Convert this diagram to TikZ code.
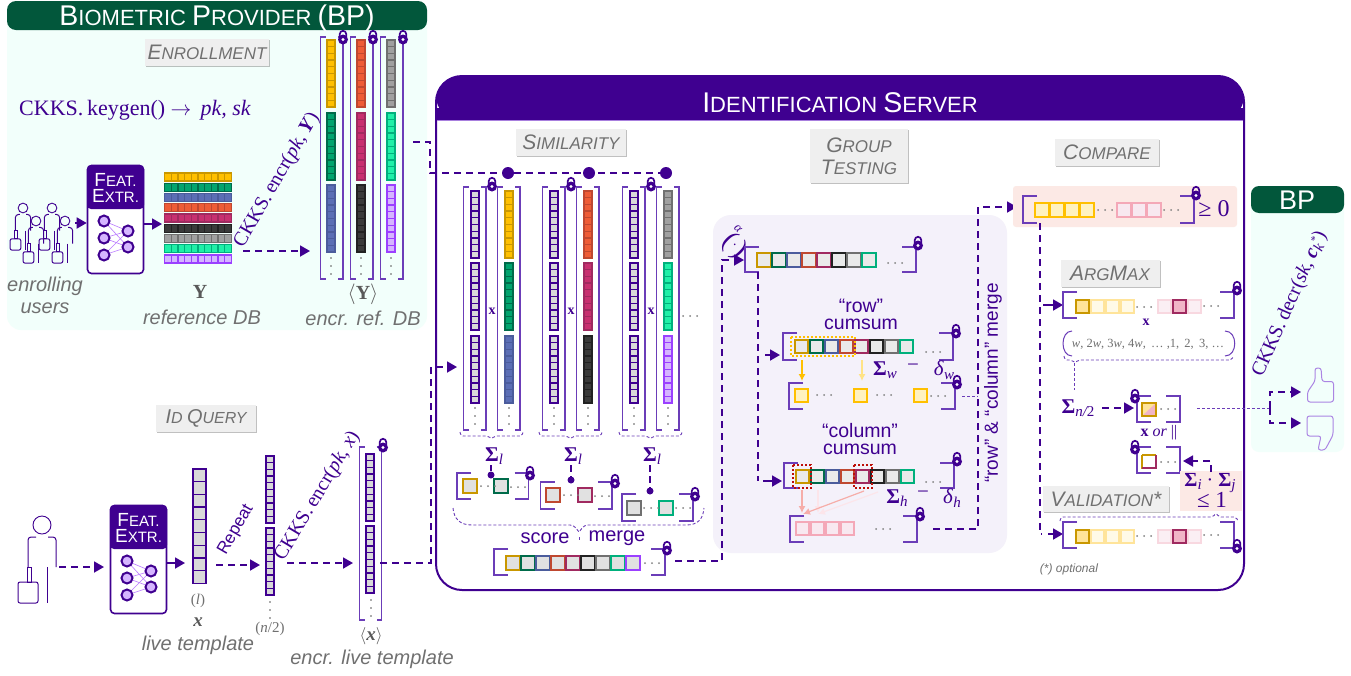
\documentclass[tikz,border=0pt]{standalone}
\usepackage{fontspec}
\setmainfont{Liberation Sans}
\newfontfamily\mf{Liberation Serif}
\usetikzlibrary{arrows.meta,shadows,calc}
\definecolor{pur}{HTML}{3F0090}
\definecolor{brk}{HTML}{6B3DB8}
\definecolor{hgreen}{HTML}{02573B}
\definecolor{mint}{HTML}{F2FFFB}
\definecolor{labbg}{HTML}{EFEFEF}
\definecolor{labtx}{HTML}{707070}
\definecolor{panel}{HTML}{F4F1FA}
\definecolor{pinkbg}{HTML}{FCE9E5}
\definecolor{c1}{HTML}{FFC000}\definecolor{d1}{HTML}{C99700}
\definecolor{c2}{HTML}{00A46E}\definecolor{d2}{HTML}{006B4A}
\definecolor{c3}{HTML}{5B6EB5}\definecolor{d3}{HTML}{4B5C9C}
\definecolor{c4}{HTML}{EE5C36}\definecolor{d4}{HTML}{BF4830}
\definecolor{c5}{HTML}{C83070}\definecolor{d5}{HTML}{A02A60}
\definecolor{c6}{HTML}{3A3A3A}\definecolor{d6}{HTML}{222222}
\definecolor{c7}{HTML}{A0A0A0}\definecolor{d7}{HTML}{707070}
\definecolor{c8}{HTML}{20F0A8}\definecolor{d8}{HTML}{00B07C}
\definecolor{c9}{HTML}{D5B5FF}\definecolor{d9}{HTML}{9B40FF}
\definecolor{cQ}{HTML}{D9D9D9}\definecolor{dQ}{HTML}{3F0090}
\definecolor{ylo}{HTML}{FFC000}\definecolor{ylf}{HTML}{FFF2C0}
\definecolor{pkb}{HTML}{F4A8B8}\definecolor{pkf}{HTML}{F8E8F0}
\definecolor{ylb2}{HTML}{FFE49A}\definecolor{ylf2}{HTML}{FFFAE6}
\definecolor{pkb2}{HTML}{F8D8E0}\definecolor{pkf2}{HTML}{FBEFF4}
\newcommand\scw[4]{{\fontsize{#1}{#1}\selectfont #3\fontsize{#2}{#2}\selectfont #4}}
\newcommand\ssb[1]{\raisebox{-3.5pt}{\fontsize{15}{15}\selectfont\mdseries\itshape #1}}
\newcommand\myhc[8]{\foreach \i in {0,...,#3}{\draw[draw=#7,fill=#8,line width=1.3pt] (#1+\i*#4,#2) rectangle ++(#5,#6);}}
\newcommand\myvc[8]{\foreach \i in {0,...,#3}{\draw[draw=#7,fill=#8,line width=1.35pt] (#1,#2+\i*#4) rectangle ++(#5,#6);}}
\newcommand\mytri[7]{\myvc{#1}{#2}{9}{6.7}{8}{6.7}{d#5}{c#5}\myvc{#1}{#3}{9}{6.7}{8}{6.7}{d#6}{c#6}\myvc{#1}{#4}{9}{6.7}{8}{6.7}{d#7}{c#7}}
\newcommand\myrow[6]{\foreach \k [count=\n from 0] in {#5}{\draw[draw=d\k,fill=#6,line width=1.3pt] (#1+\n*#3,#2) rectangle ++(#4,#4);}}
\newcommand\brkt[5]{\draw[brk,line width=1.1pt] (#1+#5,#2) -- (#1,#2) -- (#1,#4) -- (#1+#5,#4);\draw[brk,line width=1.1pt] (#3-#5,#2) -- (#3,#2) -- (#3,#4) -- (#3-#5,#4);}
\newcommand\lockat[2]{\fill[pur] (#1,#2+2.5) circle (5);\fill[white] (#1,#2+2.5) circle (1.6);\draw[pur,line width=1.7pt] (#1-3.2,#2) -- (#1-3.2,#2-3) arc (180:360:3.2) -- (#1+3.2,#2);}
\newcommand\hd[3]{\foreach \j in {0,1,2}{\fill[gray] (#1+\j*7,#2) circle (1);}}
\newcommand\vd[2]{\foreach \j in {0,1,2}{\fill[gray!70!black] (#1,#2+\j*8) circle (0.9);}}
\newcommand\person[3]{\begin{scope}[shift={(#1,#2)},scale=#3,pur,line width=1pt]
\draw[line width=.9pt] (0,0) circle [radius=9];
\draw[rounded corners=3pt] (-14,42) -- (-14,12) -- (-6,12);
\draw[rounded corners=3pt] (6,12) -- (14,12) -- (14,42);
\draw (-15,42) rectangle (-11,57);
\draw[rounded corners=2pt] (-24,57) rectangle (-4,78);
\draw (5,42) -- (5,78);
\end{scope}}
\newcommand\fext[3]{%
\node[draw=pur,fill=white,line width=1.6pt,rounded corners=4pt,minimum width=56pt,minimum height=108pt,inner sep=0] (#3) at (#1+28.5,#2+54.5) {};
\fill[pur,rounded corners=4pt] (#1,#2+44) -- (#1,#2) -- (#1+57,#2) -- (#1+57,#2+44) -- cycle;
\node[white,inner sep=0,align=center] (#3t) at (#1+28.5,#2+23) {\scw{19}{15}{F}{EAT.}\\[2pt]\scw{19}{15}{E}{XTR.}};
\foreach \a in {56,73,90}{\foreach \b in {66,82}{\draw[d9!70,line width=.6pt] (#1+17,#2+\a) -- (#1+41,#2+\b);}}
\foreach \a in {56,73,90}{\draw[pur,fill=c9,line width=2pt] (#1+17,#2+\a) circle (5.5);}
\foreach \b in {66,82}{\draw[pur,fill=c9,line width=2pt] (#1+41,#2+\b) circle (5.5);}}
\newcommand\dbrace[4]{\draw[brk,line width=.9pt,dash pattern=on 3pt off 2pt,rounded corners=2pt] (#1,#4-4) -- (#1+1,#4) -- (#3-3,#4) -- (#3,#4+3) -- (#3+3,#4) -- (#2-1,#4) -- (#2,#4-4);}
\tikzset{
 dc/.style={pur,line width=1.8pt,dash pattern=on 7pt off 5pt},
 tip/.style={-{Triangle[length=10pt,width=11pt]}},
 lab/.style={fill=labbg,text=labtx,font=\itshape,inner sep=0,drop shadow={shadow xshift=1pt,shadow yshift=-1pt,opacity=.35,fill=black!70},align=center},
 capt/.style={text=labtx,font=\itshape\fontsize{20}{22}\selectfont,inner sep=0,align=center},
 mt/.style={text=pur,font=\mf,inner sep=0},
 st/.style={text=pur,inner sep=0,align=center},
 dotn/.style={circle,fill=pur,inner sep=0,minimum size=#1},
}
\begin{document}
\begin{tikzpicture}[x=1pt,y=-1pt]
\useasboundingbox (0,0) rectangle (1351,675);
\fill[white] (0,0) rectangle (1351,675);
% ---------- BP panel
\fill[mint,rounded corners=14pt] (7,10) rectangle (427,330);
\fill[hgreen,rounded corners=9pt] (7,30) -- (7,1) -- (427,1) -- (427,30) -- cycle;
\node[white,inner sep=0] (bptitle) at (217,18) {\scw{28.5}{22}{B}{IOMETRIC }\scw{28.5}{22}{P}{ROVIDER }\scw{28.5}{28.5}{(BP)}{}};
\node[lab,minimum width=124pt,minimum height=27pt] (enr) at (207,52.5) {\scw{21}{17}{E}{NROLLMENT}};
\node[mt,font=\mf\fontsize{22}{22}\selectfont,anchor=west] (keygen) at (19,110) {CKKS.\,keygen() $\rightarrow$\, \textit{pk, sk}};
% users
\person{23}{208}{.54}\person{36}{221}{.54}\person{52}{208}{.54}\person{65}{221}{.54}
\coordinate (usersR) at (75,223);
\fext{87}{165}{fe1}
\draw[pur,line width=1.8pt,tip] (usersR) -- (fe1.west |- usersR);
\coordinate (y1in) at (162,224);
\draw[pur,line width=1.8pt,tip] (fe1.east |- y1in) -- (y1in);
% reference DB
\foreach \yy/\k in {173/1,183.3/2,193.7/3,203.7/4,214/5,224.3/6,234.3/7,244.7/8,255/9}{\myhc{164.5}{\yy}{9}{6.7}{6.7}{8}{d\k}{c\k}}
\node[capt] (enrusers) at (45,295) {enrolling\\users};
\node[mt,text=black!65,font=\mf\bfseries\fontsize{20}{20}\selectfont] (ylab) at (200,292) {Y};
\node[capt] (refdb) at (202,317) {reference DB};
\node[mt,rotate=60,font=\mf\fontsize{20}{20}\selectfont] (enc1) at (277,180) {CKKS.\,encr(\textit{pk}, \textbf{\textit{Y}})};
\coordinate (enc1a) at (243,251);\coordinate (enc1b) at (310,251);
\draw[dc,tip] (enc1a) -- (enc1b);
% encrypted DB
\foreach \o/\a/\b/\c in {0/1/2/3,30/4/5/6,60/7/8/9}{
 \brkt{320.5+\o}{37}{343+\o}{279}{5}
 \mytri{327+\o}{40}{113}{185}{\a}{\b}{\c}
 \vd{331+\o}{258}
 \lockat{343+\o}{37}
}
\node[mt,text=black!65,font=\mf\bfseries\fontsize{20}{20}\selectfont] (ylab2) at (363,294) {$\langle$Y$\rangle$};
\node[capt] (encdb) at (363,318) {encr. ref. DB};
% ---------- Server
\draw[pur,fill=white,line width=2pt,rounded corners=26pt] (436,76) rectangle (1244,590);
\fill[pur,rounded corners=24pt] (436,120) -- (436,76) -- (1244,76) -- (1244,120) -- cycle;
\fill[pur] (436,108) rectangle (1244,120);
\draw[c9!70!pur,line width=.8pt] (437,120.5) -- (1243,120.5);
\node[white,inner sep=0] (srvtitle) at (840,103) {\scw{28.5}{22}{I}{DENTIFICATION }\scw{28.5}{22}{S}{ERVER}};
% ---------- Query
\node[lab,minimum width=100pt,minimum height=27pt] (idq) at (206,418.5) {\scw{20}{16}{I}{D }\scw{20}{16}{Q}{UERY}};
\person{42}{525}{1}
\coordinate (userR) at (59,567);
\fext{110}{505}{fe2}
\coordinate (feIn) at (104,567);
\draw[dc,tip] (userR) -- (feIn);
\coordinate (xIn) at (185,563);
\draw[pur,line width=1.8pt,tip] (fe2.east |- xIn) -- (xIn);
\myvc{193}{469}{8}{12.7}{13}{12.7}{pur}{cQ}
\node[mt,text=labtx,font=\mf\fontsize{15}{15}\selectfont] (lpar) at (198,601) {(\textit{l})};
\node[mt,text=black!65,font=\mf\bfseries\itshape\fontsize{19}{19}\selectfont] (xlab) at (198,622) {x};
\node[capt] (livet) at (198,645) {live template};
\node[st,rotate=60,font=\fontsize{17}{17}\selectfont] (rep) at (236,530) {Repeat};
\coordinate (rA) at (216,565);\coordinate (rB) at (260,565);
\draw[dc,tip] (rA) -- (rB);
\myvc{266}{456}{9}{6.7}{8}{6.7}{pur}{cQ}\myvc{266}{528}{9}{6.7}{8}{6.7}{pur}{cQ}
\vd{270}{602}
\node[mt,text=labtx,font=\mf\fontsize{15}{15}\selectfont] (n2) at (270,629) {(\textit{n}/2)};
\node[mt,rotate=59,font=\mf\fontsize{20}{20}\selectfont] (enc2) at (317.5,496) {CKKS.\,encr(\textit{pk}, \textit{x})};
\coordinate (eA) at (287,563);\coordinate (eB) at (353,563);
\draw[dc,tip] (eA) -- (eB);
\brkt{359.5}{447}{381.5}{620}{5}
\myvc{366}{454}{9}{6.7}{8}{6.7}{pur}{cQ}\myvc{366}{526}{9}{6.7}{8}{6.7}{pur}{cQ}
\vd{371}{600}
\lockat{383}{445}
\node[mt,text=black!65,font=\mf\bfseries\itshape\fontsize{19}{19}\selectfont] (xenc) at (371,636) {$\langle$x$\rangle$};
\node[capt] (enclive) at (372,659) {encr. live template};
% ---------- Similarity
\node[lab,minimum width=110pt,minimum height=27pt] (sim) at (571,142.5) {\scw{21}{17}{S}{IMILARITY}};
\foreach \o/\a/\b/\c in {0/1/2/3,79/4/5/6,159/7/8/9}{
 \brkt{463.5+\o}{187}{486+\o}{430}{5}
 \brkt{497.5+\o}{187}{520+\o}{430}{5}
 \mytri{471+\o}{191}{263}{336}{Q}{Q}{Q}
 \mytri{505+\o}{191}{263}{336}{\a}{\b}{\c}
 \vd{475+\o}{408}\vd{509+\o}{408}
 \lockat{492+\o}{184}
 \node[mt,font=\mf\bfseries\fontsize{14}{14}\selectfont] at (492+\o,311) {x};
 \dbrace{460+\o}{523+\o}{491.5+\o}{436}
}
\hd{683}{316}{}
\node[dotn=12pt] (b1) at (508,173) {};
\node[dotn=12pt] (b2) at (589,173) {};
\node[dotn=12pt] (b3) at (666,173) {};
\coordinate (dbout) at (413,142);\coordinate (busL) at (430,173);
\draw[dc] (dbout) -| (busL) -- (b3);
\coordinate (qOut) at (380,563);\coordinate (qV) at (431,563);\coordinate (qIn) at (457,367);
\draw[dc,tip] (qOut) -- (qV) |- (qIn);
% sigma l
\foreach \nm/\xx in {s1/492,s2/571,s3/650}{\node[mt,font=\mf\bfseries\fontsize{21}{21}\selectfont] (\nm) at (\xx+2,456) {Σ\ssb{l}};}
\node[dotn=7pt] (p1) at (491,475) {};
\node[dotn=7pt] (p2) at (571,480) {};
\node[dotn=7pt] (p3) at (650,491) {};
\draw[pur,line width=1.6pt] (491,465) -- (p1);
\draw[pur,line width=1.6pt,dash pattern=on 7pt off 4pt] (571,465) -- (p2);
\draw[pur,line width=1.6pt,dash pattern=on 7pt off 4pt] (650,465) -- (p3);
\brkt{457}{473}{528.5}{499}{14}
\draw[d1,fill=cQ!80,line width=1.6pt] (463,479) rectangle ++(14,14);\draw[d2,fill=cQ!80,line width=1.6pt] (494,479) rectangle ++(14,14);
\hd{481}{486}{}\hd{511}{487}{}
\lockat{530}{473}
\brkt{540.5}{482}{612}{509}{14}
\draw[d4,fill=cQ!80,line width=1.6pt] (546,488) rectangle ++(14,14);\draw[d5,fill=cQ!80,line width=1.6pt] (578,488) rectangle ++(14,14);
\hd{564}{495}{}\hd{595}{496}{}
\lockat{615}{481}
\brkt{622}{494}{693}{521}{14}
\draw[d7,fill=cQ!80,line width=1.6pt] (627,501) rectangle ++(14,14);\draw[d8,fill=cQ!80,line width=1.6pt] (659,501) rectangle ++(14,14);
\hd{644}{508}{}\hd{676}{508}{}
\lockat{695}{494}
\draw[brk,line width=.9pt,dash pattern=on 3pt off 2pt] (453,508) .. controls (454,519) and (460,525) .. (472,525) -- (570,525) .. controls (575,525) and (577,530) .. (579,532) .. controls (581,530) and (583,525) .. (588,525) -- (686,525) .. controls (698,525) and (703,519) .. (704,508);
\draw[brk,line width=1pt] (579,537) -- (579,540);
\node[st,font=\fontsize{20}{20}\selectfont] (score) at (545,538) {score};
\node[st,font=\fontsize{20}{20}\selectfont] (merge) at (617,538) {merge};
\brkt{494}{549}{665}{575}{14}
\myrow{506}{556}{15}{14}{1,2,3,4,5,6,7,8,9}{cQ!80}
\hd{645}{563}{}
\lockat{667}{548}
% ---------- Group Testing
\fill[panel,rounded corners=18pt] (713,215) rectangle (1007,553);
\node[lab,minimum width=98pt,minimum height=54pt] (gt) at (859,156) {\scw{21}{17}{G}{ROUP}\\[6pt]\scw{21}{17}{T}{ESTING}};
\node[mt,rotate=-45,font=\mf\fontsize{27}{27}\selectfont] (alpha) at (734,246) {(\raisebox{3pt}{\fontsize{14}{14}\selectfont ·})};
\node[mt,rotate=-45,font=\mf\itshape\fontsize{13}{13}\selectfont] (alpha2) at (738,229) {α};
\coordinate (mOut) at (675,561);\coordinate (mV) at (722,561);\coordinate (gIn) at (744,260);
\draw[dc,tip] (mOut) -- (mV) |- (gIn);
\brkt{745}{247}{916}{272}{14}
\myrow{757}{253}{15}{14}{1,2,3,4,5,6,7,8}{cQ!55}
\hd{888}{263}{}
\lockat{918}{243}
\coordinate (vTop) at (758,272);\coordinate (vBot) at (758,481);\coordinate (aR) at (780,355);\coordinate (aC) at (782,481);
\draw[dc] (vTop) -- (vBot);
\draw[pur,line width=1.8pt,tip] (765,355) -- (aR);
\draw[pur,line width=1.8pt,tip] (763,481) -- (aC);
\node[st,font=\fontsize{19.5}{18}\selectfont] (rowt) at (861,314) {“row”\\[-1pt]cumsum};
\brkt{783}{333}{953}{360}{14}
\myrow{795}{340}{15}{13}{1,2,3,4,5,6,7,8}{cQ!55}
\hd{926}{352}{}
\lockat{956}{331}
\draw[ylo,line width=2pt,dash pattern=on 2pt off 2pt] (791,337) rectangle (855,356);
\draw[ylo,line width=1.2pt,-{Latex[length=7pt,width=7pt]}] (802,360) -- (802,381);
\draw[ylf!70!ylo,line width=1.2pt,-{Latex[length=7pt,width=7pt]}] (862,360) -- (862,381);
\node[mt,font=\mf\bfseries\fontsize{21}{21}\selectfont] (sw) at (885,370) {Σ\ssb{w}};
\node[mt,font=\mf\fontsize{21}{21}\selectfont] (sm) at (913,368) {−};
\node[mt,font=\mf\fontsize{21}{21}\selectfont] (dw) at (944,370) {\textit{δ}\ssb{w}};
\brkt{789}{383}{955}{409}{14}
\foreach \xx in {795,854,914}{\draw[ylo,fill=ylf,line width=1.6pt] (\xx,389) rectangle ++(13,13);}
\hd{817}{395}{}\hd{877}{395}{}\hd{931}{396}{}
\lockat{957}{382}
\node[st,font=\fontsize{19.5}{18}\selectfont] (colt) at (860,439) {“column”\\[-1pt]cumsum};
\brkt{784}{463}{954}{488}{14}
\myrow{796}{470}{15}{13}{1,2,3,4,5,6,7,8}{cQ!55}
\hd{926}{482}{}
\lockat{957}{459}
\draw[c4!20!red!75!black,line width=2pt,dash pattern=on 2pt off 2pt] (793,465) rectangle (811,488);
\draw[c4!20!red!75!black,line width=2pt,dash pattern=on 2pt off 2pt] (854,465) rectangle (872,488);
\draw[pkb!60!c4!70,line width=1.2pt,-{Latex[length=7pt,width=7pt]}] (802,490) -- (802,513);
\draw[pkb!30,line width=1.2pt,-{Latex[length=7pt,width=7pt]}] (818,490) -- (818,513);
\draw[pkb!60!c4!70,line width=1.2pt,-{Latex[length=7pt,width=7pt]}] (864,491) -- (803,514);
\draw[pkb!30,line width=1.2pt,-{Latex[length=7pt,width=7pt]}] (878,492) -- (818,514);
\node[mt,font=\mf\bfseries\fontsize{21}{21}\selectfont] (sh) at (897,498) {Σ\ssb{h}};
\node[mt,font=\mf\fontsize{21}{21}\selectfont] (sm2) at (923,495) {−};
\node[mt,font=\mf\fontsize{21}{21}\selectfont] (dh) at (952,498) {\textit{δ}\ssb{h}};
\brkt{790}{516}{917}{542}{14}
\myhc{796}{522}{3}{15}{13}{13}{pkb}{pkf}
\hd{876}{529}{}
\lockat{920}{514}
\coordinate (gOut) at (933,529);\coordinate (gV) at (978,529);\coordinate (cIn) at (1017,207);
\draw[dc,tip] (gOut) -- (gV) |- (cIn);
\coordinate (rOut) at (962,396);\coordinate (rEnd) at (978,396);
\draw[brk,line width=1pt,dash pattern=on 3pt off 2pt] (rOut) -- (rEnd);
\node[st,rotate=90,font=\fontsize{19}{19}\selectfont] (mlab) at (993,383) {“row” \& “column” merge};
% ---------- Compare
\node[lab,minimum width=104pt,minimum height=27pt] (cmp) at (1107,152.5) {\scw{21}{17}{C}{OMPARE}};
\fill[pinkbg,rounded corners=3pt] (1013,186) rectangle (1237,227);
\brkt{1023}{196}{1194}{223}{14}
\myhc{1035}{203}{3}{15}{14}{14}{ylo}{ylf}
\hd{1098}{210}{}
\myhc{1117}{203}{2}{15}{14}{14}{pkb}{pkf}
\hd{1164}{210}{}
\lockat{1196}{193}
\node[mt,font=\mf\fontsize{24}{24}\selectfont] (ge) at (1214,209) {≥ 0};
\coordinate (cOut) at (1040,223);\coordinate (cBot) at (1040,534);\coordinate (aM) at (1063,305);\coordinate (aV) at (1063,534);
\draw[dc] (cOut) -- (cBot) -- ++(2,0);
\draw[pur,line width=1.8pt,tip] (1043,305) -- (aM);
\draw[pur,line width=1.8pt,tip] (1048,534) -- (aV);
\node[lab,minimum width=99pt,minimum height=27pt] (amx) at (1110,273.5) {\scw{21}{17}{A}{RG}\scw{21}{17}{M}{AX}};
\brkt{1063}{292}{1234}{318}{14}
\myhc{1091}{300}{2}{15}{13}{13}{ylb2}{ylf2}
\draw[d1,fill=ylb2,line width=1.6pt] (1076,300) rectangle ++(13,13);
\hd{1137}{307}{}
\draw[pkb2,fill=pkf2,line width=1.3pt] (1158,300) rectangle ++(13,13);
\draw[d5,fill=pkb!70!c5!60,line width=1.6pt] (1173,300) rectangle ++(13,13);
\draw[pkb2,fill=pkf2,line width=1.3pt] (1188,300) rectangle ++(13,13);
\hd{1204}{306}{}
\lockat{1237}{288}
\node[mt,font=\mf\bfseries\fontsize{14}{14}\selectfont] (xm) at (1146,322) {x};
\draw[brk,line width=1pt] (1072,331) .. controls (1060,331) and (1060,356) .. (1072,356);
\draw[brk,line width=1pt] (1225,331) .. controls (1238,331) and (1238,356) .. (1225,356);
\node[mt,text=labtx,font=\mf\fontsize{12.5}{12.5}\selectfont] (wlist) at (1148,344) {\textit{w}, 2\textit{w}, 3\textit{w}, 4\textit{w},\,\ \dots\ ,1,\,\ 2,\,\ 3, \dots};
\dbrace{1064}{1233}{1075}{360}
\coordinate (lTop) at (1074,363);\coordinate (lBot) at (1074,390);
\draw[brk,line width=1pt,dash pattern=on 3pt off 2pt] (lTop) -- (lBot);
\node[mt,font=\mf\bfseries\fontsize{21}{21}\selectfont] (sn2) at (1078,408) {Σ\ssb{n/\upshape 2}};
\coordinate (nA) at (1102,408);\coordinate (nB) at (1134,408);
\draw[dc,tip] (nA) -- (nB);
\brkt{1137}{396}{1180}{422}{14}
\fill[ylb2] (1142,403) rectangle ++(14,13);
\fill[pkb!70!c5!60] (1142,416) -- (1156,403) -- (1156,416) -- cycle;
\draw[d1,line width=1.6pt] (1142,403) rectangle ++(14,13);
\hd{1161}{409}{}
\lockat{1135}{396}
\node[mt,font=\mf\fontsize{16}{16}\selectfont] (xor) at (1159,433) {\textbf{x} \textit{or} ||};
\brkt{1137}{447}{1180}{473}{14}
\draw[d1,fill=white,line width=1.6pt] (1142,455) -- (1142,468) -- (1156,468) ;
\draw[d1,line width=1.6pt] (1142,455) -- (1156,455);
\draw[d5,line width=1.6pt] (1156,455) -- (1156,468) -- (1142,468);
\hd{1161}{462}{}
\lockat{1135}{447}
\fill[pinkbg] (1180,471) rectangle (1242,511);
\coordinate (sU) at (1211,472);\coordinate (sL) at (1183,461);
\draw[dc,tip] (sU) |- (sL);
\node[mt,font=\mf\fontsize{20}{20}\selectfont] (sij) at (1210,483) {\textbf{Σ}\ssb{i} · \textbf{Σ}\ssb{j}};
\node[mt,font=\mf\fontsize{23}{23}\selectfont] (le1) at (1212,500) {≤ 1};
\node[lab,minimum width=126pt,minimum height=26pt] (val) at (1106,499) {\scw{21}{17}{V}{ALIDATION}{\fontsize{21}{21}\selectfont *}};
\draw[brk,line width=.9pt,dash pattern=on 3pt off 2pt,rounded corners=2pt] (1060,521) -- (1061,517) -- (1213,517) -- (1216,513) -- (1219,517) -- (1236,517) -- (1238,521);
\brkt{1063}{522}{1234}{548}{14}
\myhc{1091}{530}{2}{15}{13}{13}{ylb2}{ylf2}
\draw[d1,fill=ylb2,line width=1.6pt] (1076,530) rectangle ++(13,13);
\hd{1137}{536}{}
\draw[pkb2,fill=pkf2,line width=1.3pt] (1158,530) rectangle ++(13,13);
\draw[d5,fill=pkb!70!c5!60,line width=1.6pt] (1173,530) rectangle ++(13,13);
\draw[pkb2,fill=pkf2,line width=1.3pt] (1188,530) rectangle ++(13,13);
\hd{1204}{535}{}
\lockat{1237}{546}
\node[text=labtx,font=\itshape\fontsize{12}{12}\selectfont,inner sep=0] (opt) at (1069,569) {(*) optional};
% ---------- BP right
\fill[mint,rounded corners=8pt] (1251,195) rectangle (1344,452);
\fill[hgreen,rounded corners=8pt] (1251,213) -- (1251,186) -- (1344,186) -- (1344,213) -- cycle;
\node[white,inner sep=0,font=\fontsize{27}{27}\selectfont] (bp2) at (1297,200) {BP};
\node[mt,rotate=66,font=\mf\fontsize{20}{20}\selectfont] (dec) at (1290,304) {CKKS.\,decr(\textit{sk}, \textbf{\textit{c}}\ssb{k}\raisebox{5pt}{\fontsize{11}{11}\selectfont *})};
\coordinate (oA) at (1197,408);\coordinate (oB) at (1270,408);
\coordinate (tU) at (1301,392);\coordinate (tD) at (1301,423);
\draw[brk,line width=1pt,dash pattern=on 3pt off 2pt] (oA) -- (oB);
\draw[dc,tip] (oB) |- (tU);
\draw[dc,tip] (oB) |- (tD);
\draw[c9!60!brk,line width=1pt,rounded corners=2.5pt] (1307.5,402) -- (1307.5,392) -- (1315,381) -- (1315,368) -- (1321,368) -- (1322,381.5) -- (1333.5,381.5) -- (1333.5,402) -- cycle;
\draw[c9!60!brk,line width=1pt,rounded corners=2.5pt] (1307,416) -- (1333,416) -- (1333,435) -- (1325,450) -- (1318,450) -- (1321,436) -- (1307,436) -- cycle;
\end{tikzpicture}
\end{document}
